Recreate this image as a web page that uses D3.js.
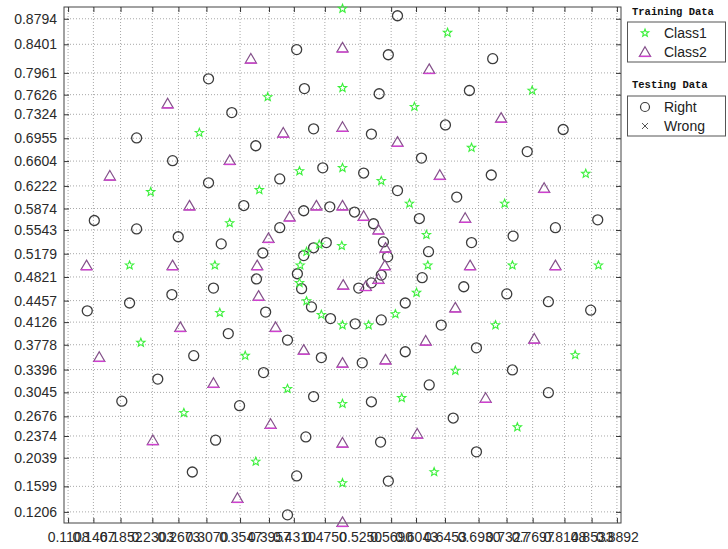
<!DOCTYPE html>
<html><head><meta charset="utf-8">
<script src="https://cdn.jsdelivr.net/npm/d3@7"></script>
<style>body{margin:0;background:#fff}</style>
</head><body><svg id="c" width="728" height="549"></svg>
<script>
const xTickValues=[0.1108,0.1467,0.1852,0.2303,0.2673,0.3070,0.3547,0.3957,0.4310,0.4750,0.5250,0.5690,0.6043,0.6453,0.6930,0.7327,0.7697,0.8148,0.8533,0.8892];
const yTickValues=[0.1206,0.1599,0.2039,0.2374,0.2676,0.3045,0.3396,0.3778,0.4126,0.4457,0.4821,0.5179,0.5543,0.5874,0.6222,0.6604,0.6955,0.7324,0.7626,0.7961,0.8401,0.8794];

const class1X=[0.500,0.649,0.500,0.769,0.394,0.602,0.297,0.683,0.500,0.439,0.555,0.845,0.228,0.382,0.595,0.730,0.340,0.619,0.198,0.319,0.440,0.621,0.741,0.863,0.439,0.449,0.470,0.500,0.537,0.575,0.605,0.326,0.214,0.362,0.422,0.500,0.275,0.377,0.500,0.717,0.830,0.660,0.584,0.748,0.630,0.449,0.467,0.499];
const class1Y=[0.895,0.858,0.773,0.769,0.759,0.744,0.704,0.681,0.650,0.645,0.630,0.641,0.613,0.616,0.595,0.595,0.565,0.547,0.500,0.500,0.500,0.500,0.500,0.500,0.473,0.445,0.424,0.408,0.408,0.425,0.458,0.427,0.381,0.361,0.310,0.287,0.273,0.198,0.165,0.408,0.362,0.338,0.296,0.251,0.182,0.521,0.532,0.530];

const class2X=[0.500,0.351,0.500,0.231,0.606,0.398,0.703,0.317,0.500,0.561,0.445,0.155,0.772,0.618,0.405,0.270,0.660,0.381,0.802,0.681,0.560,0.379,0.259,0.137,0.561,0.551,0.530,0.500,0.463,0.425,0.395,0.674,0.786,0.638,0.578,0.500,0.725,0.623,0.500,0.283,0.170,0.340,0.416,0.252,0.370,0.551,0.533,0.501];
const class2Y=[0.105,0.142,0.227,0.231,0.241,0.256,0.296,0.319,0.350,0.355,0.370,0.359,0.387,0.384,0.405,0.405,0.435,0.453,0.500,0.500,0.500,0.500,0.500,0.500,0.527,0.555,0.576,0.592,0.592,0.575,0.542,0.573,0.619,0.639,0.690,0.713,0.727,0.802,0.835,0.592,0.638,0.662,0.704,0.749,0.818,0.479,0.468,0.470];

const testX=[0.435,0.310,0.446,0.343,0.459,0.208,0.377,0.259,0.472,0.310,0.411,0.360,0.445,0.482,0.148,0.208,0.267,0.411,0.328,0.387,0.578,0.565,0.713,0.552,0.680,0.541,0.646,0.813,0.762,0.612,0.530,0.711,0.578,0.662,0.517,0.544,0.558,0.564,0.609,0.862,0.802,0.742,0.683,0.622,0.445,0.459,0.477,
0.565,0.690,0.554,0.657,0.541,0.792,0.623,0.741,0.528,0.690,0.589,0.640,0.555,0.518,0.852,0.792,0.733,0.589,0.672,0.613,0.422,0.435,0.287,0.448,0.320,0.459,0.354,0.187,0.238,0.388,0.470,0.289,0.422,0.338,0.483,0.456,0.442,0.436,0.391,0.138,0.198,0.258,0.317,0.378,0.555,0.541,0.523];
const testY=[0.832,0.787,0.772,0.735,0.710,0.696,0.684,0.661,0.650,0.627,0.633,0.592,0.584,0.590,0.569,0.556,0.544,0.558,0.533,0.519,0.884,0.824,0.818,0.764,0.769,0.702,0.716,0.709,0.675,0.665,0.642,0.639,0.615,0.605,0.582,0.564,0.536,0.513,0.572,0.570,0.558,0.545,0.535,0.521,0.515,0.527,0.535,
0.168,0.213,0.228,0.265,0.290,0.304,0.316,0.339,0.350,0.373,0.367,0.408,0.416,0.410,0.431,0.444,0.456,0.442,0.467,0.481,0.116,0.176,0.182,0.236,0.231,0.298,0.284,0.291,0.325,0.335,0.358,0.361,0.385,0.395,0.418,0.436,0.464,0.487,0.428,0.430,0.442,0.455,0.465,0.479,0.485,0.473,0.465];

const wrongX=[], wrongY=[];

const W=728,H=549, L=64,R=621,T=7,B=523;
const svg=d3.select('#c');
const x=d3.scaleLinear().domain([0.105,0.895]).range([L,R]);
const y=d3.scaleLinear().domain([0.1035,0.8975]).range([B,T]);
const font='"Liberation Sans", Arial, sans-serif';

// grid
const grid=svg.append('g');
grid.selectAll('.gx').data(xTickValues).join('line')
  .attr('x1',d=>x(d)).attr('x2',d=>x(d)).attr('y1',T).attr('y2',B)
  .attr('stroke','#a8a8a8').attr('stroke-width',1).attr('stroke-dasharray','1,2');
grid.selectAll('.gy').data(yTickValues).join('line')
  .attr('y1',d=>y(d)).attr('y2',d=>y(d)).attr('x1',L).attr('x2',R)
  .attr('stroke','#a8a8a8').attr('stroke-width',1).attr('stroke-dasharray','1,2');

function styleAxis(g){
  g.select('.domain').remove();
  g.selectAll('line').attr('stroke','#333');
  g.selectAll('text').attr('fill','#2a2a2a').style('font-family',font).style('font-size','14px');
}
svg.append('g').attr('transform',`translate(0,${B})`)
  .call(d3.axisBottom(x).tickValues(xTickValues).tickFormat(d3.format('.4f')).tickSizeInner(-5).tickSizeOuter(0).tickPadding(9))
  .call(styleAxis);
svg.append('g').attr('transform',`translate(0,${T})`)
  .call(d3.axisTop(x).tickValues(xTickValues).tickFormat('').tickSizeInner(-5).tickSizeOuter(0))
  .call(styleAxis);
svg.append('g').attr('transform',`translate(${L},0)`)
  .call(d3.axisLeft(y).tickValues(yTickValues).tickFormat(d3.format('.4f')).tickSizeInner(-5).tickSizeOuter(0).tickPadding(7))
  .call(styleAxis);
svg.append('g').attr('transform',`translate(${R},0)`)
  .call(d3.axisRight(y).tickValues(yTickValues).tickFormat('').tickSizeInner(-5).tickSizeOuter(0))
  .call(styleAxis);

svg.append('rect').attr('x',L).attr('y',T).attr('width',R-L).attr('height',B-T)
  .attr('fill','none').attr('stroke','#444').attr('stroke-width',1);

// marker paths
function starPath(r1,r2){
  let p='';
  for(let i=0;i<10;i++){
    const a=-Math.PI/2+i*Math.PI/5, r=i%2?r2:r1;
    p+=(i?'L':'M')+(r*Math.cos(a)).toFixed(2)+','+(r*Math.sin(a)).toFixed(2);
  }
  return p+'Z';
}
const STAR=starPath(4.4,1.9);
const TRI='M0,-5.2L5.6,4.4L-5.6,4.4Z';
const TRIBASE='M-5.6,4.4L5.6,4.4';
const CROSS='M-3,-3L3,3M-3,3L3,-3';

const plot=svg.append('g');
const tests=d3.range(testX.length);
plot.selectAll('circle.t').data(tests).join('circle')
  .attr('cx',i=>x(testX[i])).attr('cy',i=>y(testY[i])).attr('r',5)
  .attr('fill','none').attr('stroke','#3c3c3c').attr('stroke-width',1.3);
const c2=d3.range(class2X.length);
const tg=plot.selectAll('g.tri').data(c2).join('g')
  .attr('transform',i=>`translate(${x(class2X[i])},${y(class2Y[i])})`);
tg.append('path').attr('d',TRI).attr('fill','none').attr('stroke','#84508a').attr('stroke-width',1.2);
tg.append('path').attr('d',TRIBASE).attr('fill','none').attr('stroke','#d040d0').attr('stroke-width',1.4);
const c1=d3.range(class1X.length);
plot.selectAll('path.star').data(c1).join('path')
  .attr('transform',i=>`translate(${x(class1X[i])},${y(class1Y[i])})`)
  .attr('d',STAR).attr('fill','none').attr('stroke','#3cf03c').attr('stroke-width',1.1);
plot.selectAll('path.wrong').data(d3.range(wrongX.length)).join('path')
  .attr('transform',i=>`translate(${x(wrongX[i])},${y(wrongY[i])})`)
  .attr('d',CROSS).attr('stroke','#555');

// legends
const lg=svg.append('g');
const mono='"Liberation Mono", "DejaVu Sans Mono", monospace';
function legendBlock(title,ty,by,items){
  lg.append('text').attr('x',632).attr('y',ty).text(title)
    .style('font-family',mono).style('font-weight','bold').style('font-size','10.5px').attr('fill','#111');
  lg.append('rect').attr('x',627.5).attr('y',by).attr('width',98).attr('height',40)
    .attr('fill','#fff').attr('stroke','#555');
  items.forEach((it,k)=>{
    const cy=by+11+k*19;
    const g=lg.append('g').attr('transform',`translate(645,${cy})`);
    if(it.m==='star') g.append('path').attr('d',starPath(4,1.7)).attr('fill','none').attr('stroke','#3cf03c').attr('stroke-width',1.1);
    if(it.m==='tri'){ g.append('path').attr('d',TRI).attr('fill','none').attr('stroke','#84508a').attr('stroke-width',1.2);
      g.append('path').attr('d',TRIBASE).attr('stroke','#d040d0').attr('stroke-width',1.4);}
    if(it.m==='circ') g.append('circle').attr('r',4.5).attr('fill','none').attr('stroke','#3c3c3c').attr('stroke-width',1.2);
    if(it.m==='x') g.append('path').attr('d',CROSS).attr('fill','none').attr('stroke','#555').attr('stroke-width',1);
    lg.append('text').attr('x',664).attr('y',cy+5).text(it.t)
      .style('font-family',font).style('font-size','14px').attr('fill','#222');
  });
}
legendBlock('Training Data',15,22,[{m:'star',t:'Class1'},{m:'tri',t:'Class2'}]);
legendBlock('Testing Data',88,96,[{m:'circ',t:'Right'},{m:'x',t:'Wrong'}]);
</script></body></html>
